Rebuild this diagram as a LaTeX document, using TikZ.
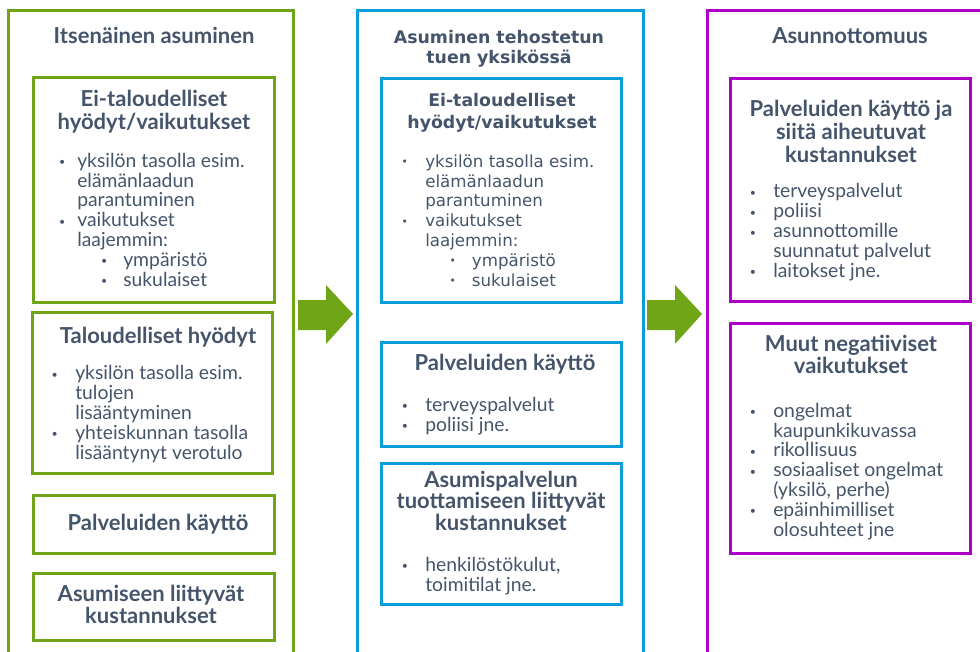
\documentclass[tikz,border=0pt]{standalone}
\usepackage{fontspec}
\setmainfont{Lato}
\newfontfamily\verd{DejaVu Sans}
\usetikzlibrary{positioning}
\definecolor{grn}{HTML}{6FA516}
\definecolor{blu}{HTML}{0A9CDB}
\definecolor{prp}{HTML}{AD00C9}
\definecolor{txt}{HTML}{44546A}
\newcommand{\bul}[1][9pt]{\llap{\raisebox{1pt}{\fontsize{8}{8}\selectfont\textbullet}\hspace{#1}}}

\begin{document}
\begin{tikzpicture}[x=0.75pt,y=-0.75pt,
    ttl/.style={font=\bfseries\fontsize{16.5}{#1}\selectfont, text=txt, align=center, anchor=base, inner sep=0pt},
    ttl/.default=17.25pt,
    vttl/.style={font=\verd\bfseries\fontsize{13}{#1}\selectfont, text=txt, align=center, anchor=base, inner sep=0pt},
    vttl/.default=15pt,
    lst/.style={font=\fontsize{14.5}{14.85pt}\selectfont, text=txt, align=left, anchor=base west, inner sep=0pt},
    vlst/.style={font=\verd\fontsize{12.5}{14.85pt}\selectfont, text=txt, align=left, anchor=base west, inner sep=0pt},
    gbox/.style={draw=grn, line width=2.25pt},
    bbox/.style={draw=blu, line width=2.25pt},
    pbox/.style={draw=prp, line width=2.25pt}]
    \useasboundingbox (0,0) rectangle (980,651);
    \clip (0,0) rectangle (980,651);

    % outer frames
    \draw[gbox] (8,10) rectangle (293,680);
    \draw[bbox] (357,10) rectangle (643,680);
    \draw[pbox] (707,10) rectangle (1000,680);

    % arrows
    \fill[grn] (298,300) -- (326,300) -- (326,285) -- (353,314) -- (326,344) -- (326,330) -- (298,330) -- cycle;
    \fill[grn] (647,300) -- (675,300) -- (675,285) -- (702,314) -- (675,344) -- (675,330) -- (647,330) -- cycle;

    % left column (nodes sit on the baseline of their last line)
    \node[ttl] (itse) at (154,43) {Itsenäinen asuminen};
    \draw[gbox] (33,77) rectangle (274,302);
    \node[ttl] (itse-ei) at (154,129) {Ei-taloudelliset\\hyödyt/vaikutukset};
    \node[lst] (itse-eil) at (77,286) {\bul yksilön tasolla esim.\\elämänlaadun\\parantuminen\\
        \bul vaikutukset\\laajemmin:\\\hspace*{34.5pt}\bul[12pt]ympäristö\\\hspace*{34.5pt}\bul[12pt]sukulaiset};
    \draw[gbox] (32,312) rectangle (272,473);
    \node[ttl] (itse-tal) at (158,343) {Taloudelliset hyödyt};
    \node[lst] (itse-tall) at (75,459) {\bul[13pt]yksilön tasolla esim.\\tulojen\\lisääntyminen\\
        \bul[13pt]yhteiskunnan tasolla\\lisääntynyt verotulo};
    \draw[gbox] (33,495) rectangle (274,553);
    \node[ttl] (itse-pal) at (158,530) {Palveluiden käyttö};
    \draw[gbox] (33,573) rectangle (274,640);
    \node[ttl=15pt] (itse-kus) at (151,623) {Asumiseen liittyvät\\kustannukset};

    % middle column
    \node[vttl] (teho) at (499,63) {Asuminen tehostetun\\tuen yksikössä};
    \draw[bbox] (381,78) rectangle (621,302);
    \node[vttl=16.5pt] (teho-ei) at (502,128) {Ei-taloudelliset\\hyödyt/vaikutukset};
    \node[vlst] (teho-eil) at (425,286) {\bul[13pt]yksilön tasolla esim.\\elämänlaadun\\parantuminen\\
        \bul[13pt]vaikutukset\\laajemmin:\\\hspace*{35pt}\bul[12pt]ympäristö\\\hspace*{35pt}\bul[12pt]sukulaiset};
    \draw[bbox] (381,342) rectangle (621,446);
    \node[ttl] (teho-pal) at (505,370) {Palveluiden käyttö};
    \node[lst] (teho-pall) at (425,431) {\bul[13pt]terveyspalvelut\\\bul[13pt]poliisi jne.};
    \draw[bbox] (381,463) rectangle (621,604);
    \node[ttl=15pt] (teho-kus) at (501,530) {Asumispalvelun\\tuottamiseen liittyvät\\kustannukset};
    \node[lst] (teho-kusl) at (425,591) {\bul[13pt]henkilöstökulut,\\toimitilat jne.};

    % right column
    \node[ttl] (asun) at (850,43) {Asunnottomuus};
    \draw[pbox] (730,78) rectangle (970,301);
    \node[ttl] (asun-pal) at (851,162) {Palveluiden käyttö ja\\siitä aiheutuvat\\kustannukset};
    \node[lst] (asun-pall) at (773,277) {\bul[13pt]terveyspalvelut\\\bul[13pt]poliisi\\
        \bul[13pt]asunnottomille\\suunnatut palvelut\\\bul[13pt]laitokset jne.};
    \draw[pbox] (730,323) rectangle (970,553);
    \node[ttl=15pt] (asun-muu) at (851,373) {Muut negatiiviset\\vaikutukset};
    \node[lst] (asun-muul) at (773,536) {\bul[13pt]ongelmat\\kaupunkikuvassa\\\bul[13pt]rikollisuus\\
        \bul[13pt]sosiaaliset ongelmat\\(yksilö, perhe)\\\bul[13pt]epäinhimilliset\\olosuhteet jne};
\end{tikzpicture}
\end{document}
